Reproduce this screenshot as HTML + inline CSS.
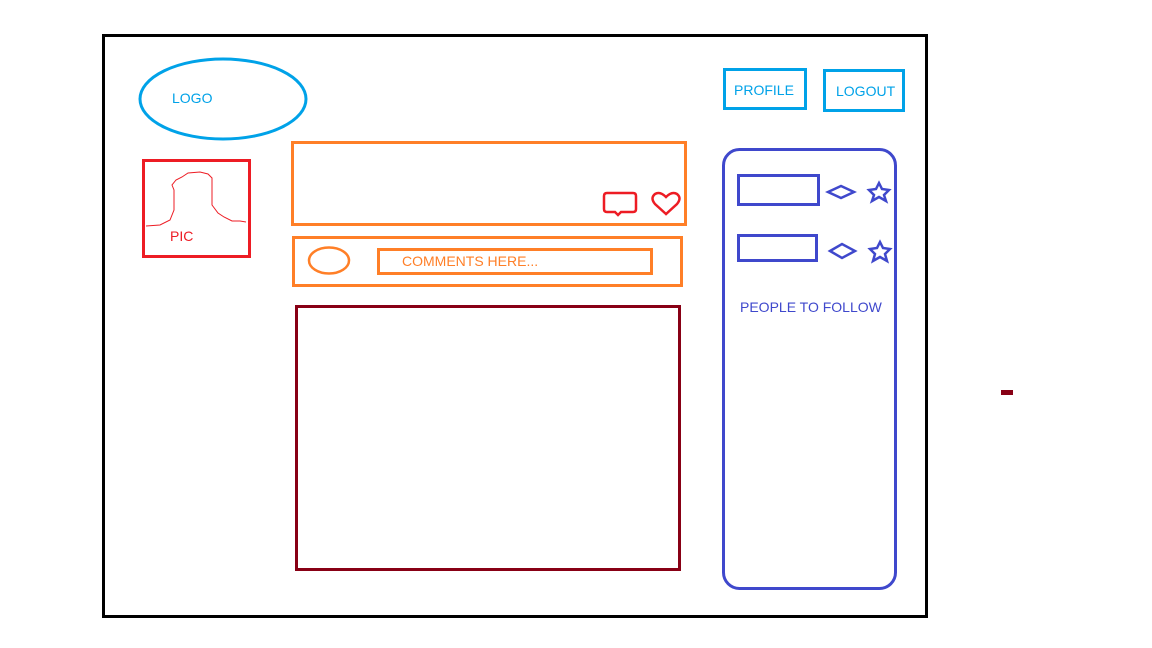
<!DOCTYPE html>
<html><head><meta charset="utf-8"><style>
html,body{margin:0;padding:0;background:#fff;width:1152px;height:648px;overflow:hidden}
svg{display:block}
text{font-family:"Liberation Sans",sans-serif}
</style></head><body>
<svg width="1152" height="648" viewBox="0 0 1152 648" xmlns="http://www.w3.org/2000/svg">
<rect x="0" y="0" width="1152" height="648" fill="#fff"/>
<rect x="103.5" y="35.5" width="823" height="581" fill="none" stroke="#000" stroke-width="3"/>
<!-- logo -->
<ellipse cx="223" cy="99" rx="83" ry="40" fill="none" stroke="#00a2e8" stroke-width="3"/>
<text x="172" y="103" font-size="14" fill="#00a2e8">LOGO</text>
<!-- profile/logout -->
<rect x="724.5" y="69.5" width="81" height="39" fill="none" stroke="#00a2e8" stroke-width="3"/>
<text x="734" y="95" font-size="14" fill="#00a2e8">PROFILE</text>
<rect x="824.5" y="70.5" width="79" height="40" fill="none" stroke="#00a2e8" stroke-width="3"/>
<text x="836" y="96" font-size="14" fill="#00a2e8">LOGOUT</text>
<!-- pic -->
<rect x="143.5" y="160.5" width="106" height="96" fill="none" stroke="#ed1c24" stroke-width="3"/>
<path d="M146 226 L160 225 L170 220 L174 210 L174 190 L172 185 L176 180 L182 177 L188 173 L200 172 L208 174 L212 178 L212 205 L218 213 L224 217 L232 221 L240 221 L246 222" fill="none" stroke="#ed1c24" stroke-width="1"/>
<text x="170" y="241" font-size="14" fill="#ed1c24">PIC</text>
<!-- post box -->
<rect x="292.5" y="142.5" width="393" height="82" fill="none" stroke="#ff7f27" stroke-width="3"/>
<path d="M607 193 h26 q3 0 3 3 v13 q0 3 -3 3 h-12 l-3 3 l-3 -3 h-8 q-3 0 -3 -3 v-13 q0 -3 3 -3z" fill="none" stroke="#ed1c24" stroke-width="2.5"/>
<path d="M666 214 l-11 -10 q-5 -6 0 -10 q5 -3 11 3 q6 -6 11 -3 q5 4 0 10z" fill="none" stroke="#ed1c24" stroke-width="2.5"/>
<!-- comment row -->
<rect x="293.5" y="237.5" width="388" height="48" fill="none" stroke="#ff7f27" stroke-width="3"/>
<ellipse cx="329" cy="260.5" rx="20" ry="13" fill="none" stroke="#ff7f27" stroke-width="2.5"/>
<rect x="378.5" y="249.5" width="273" height="24" fill="none" stroke="#ff7f27" stroke-width="3"/>
<text x="402" y="266" font-size="14" fill="#ff7f27">COMMENTS HERE...</text>
<!-- big box -->
<rect x="296.5" y="306.5" width="383" height="263" fill="none" stroke="#880015" stroke-width="3"/>
<!-- sidebar -->
<rect x="723.5" y="149.5" width="172" height="439" rx="16" fill="none" stroke="#3f48cc" stroke-width="3"/>
<rect x="738.5" y="175.5" width="80" height="29" fill="none" stroke="#3f48cc" stroke-width="3"/>
<path d="M828 192 L841 186 L854 192 L841 198 Z" fill="none" stroke="#3f48cc" stroke-width="2.5"/>
<path d="M879 183 L882 189 L889 190 L884 195 L886 201 L879 197 L872 201 L874 195 L869 190 L876 189 Z" fill="none" stroke="#3f48cc" stroke-width="2.5"/>
<rect x="738.5" y="235.5" width="78" height="25" fill="none" stroke="#3f48cc" stroke-width="3"/>
<path d="M830 251 L842 244 L855 251 L842 258 Z" fill="none" stroke="#3f48cc" stroke-width="2.5"/>
<path d="M880 242 L883 248 L890 249 L885 254 L887 261 L880 257 L873 261 L875 254 L870 249 L877 248 Z" fill="none" stroke="#3f48cc" stroke-width="2.5"/>
<text x="740" y="312" font-size="14" fill="#3f48cc">PEOPLE TO FOLLOW</text>
<!-- stray mark -->
<rect x="1001" y="390" width="12" height="5" fill="#880015"/>
</svg>
</body></html>
